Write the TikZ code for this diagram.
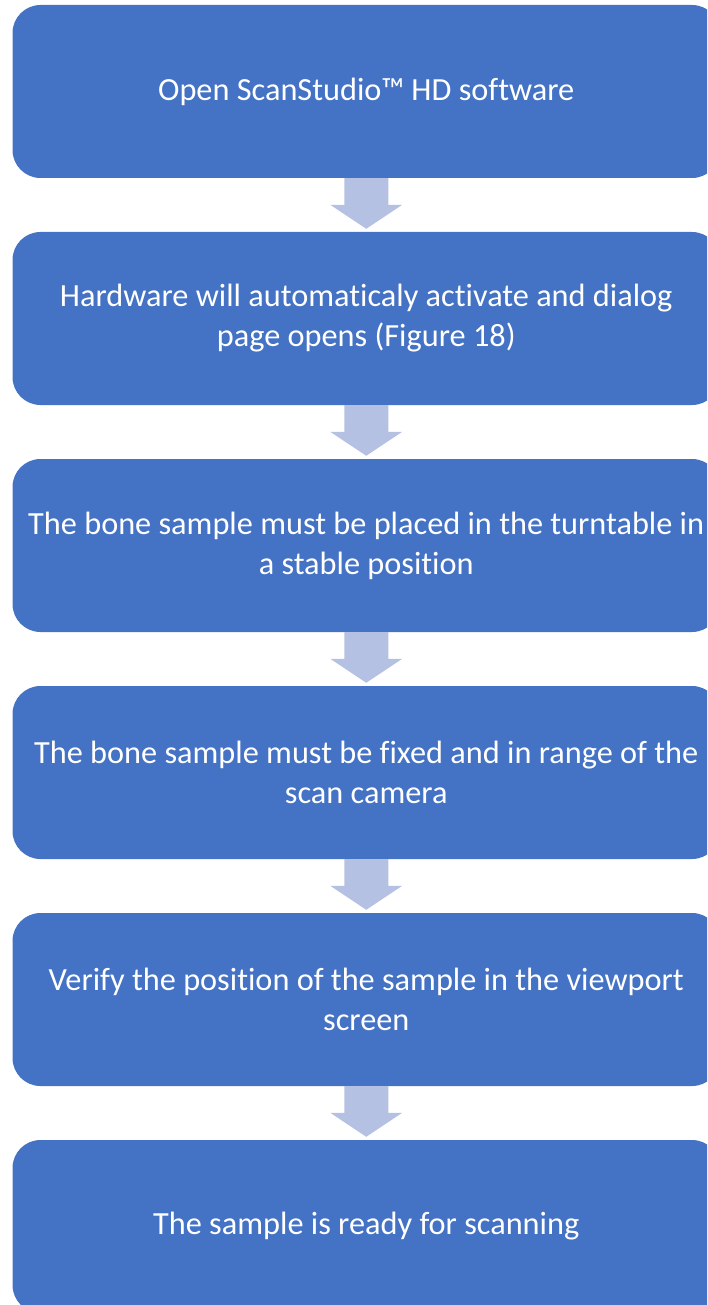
\documentclass[tikz,border=0pt]{standalone}
\usepackage{fontspec}
\setmainfont{Carlito}[Ligatures=NoCommon]
\usetikzlibrary{calc}
\definecolor{stepblue}{RGB}{68,114,196}
\definecolor{arrowblue}{RGB}{180,193,226}
\tikzset{
  stepbox/.style={fill=stepblue, draw=none, rounded corners=28pt,
    minimum width=707.5pt, minimum height=173pt, inner sep=0pt,
    text=white, align=center,
    font=\fontsize{32.3}{40}\selectfont},
  flowarrow/.style={fill=arrowblue, draw=none}
}
\newcommand{\downarrowshape}[2]{%
  \fill[flowarrow] ($(#1.south)+(-22,0)$) -- ($(#1.south)+(22,0)$)
    -- ($(#2.north)+(22,27)$) -- ($(#2.north)+(36,27)$)
    -- ($(#2.north)+(0,3)$) -- ($(#2.north)+(-36,27)$)
    -- ($(#2.north)+(-22,27)$) -- cycle;}
\begin{document}
\begin{tikzpicture}[x=1pt,y=1pt]
  \useasboundingbox (0,0) rectangle (707,-1305);
  \clip (0,0) rectangle (707,-1305);
  \node[stepbox] (b1) at (366.25,-91.5) {Open ScanStudio™ HD software};
  \node[stepbox] (b2) at (366.25,-318.5) {Hardware will automaticaly activate and dialog\\page opens (Figure 18)};
  \node[stepbox] (b3) at (366.25,-545.5) {The bone sample must be placed in the turntable in\\a stable position};
  \node[stepbox] (b4) at (366.25,-772.5) {The bone sample must be fixed and in range of the\\scan camera};
  \node[stepbox] (b5) at (366.25,-999.5) {Verify the position of the sample in the viewport\\screen};
  \node[stepbox] (b6) at (366.25,-1226.5) {The sample is ready for scanning};
  \downarrowshape{b1}{b2}
  \downarrowshape{b2}{b3}
  \downarrowshape{b3}{b4}
  \downarrowshape{b4}{b5}
  \downarrowshape{b5}{b6}
\end{tikzpicture}
\end{document}
